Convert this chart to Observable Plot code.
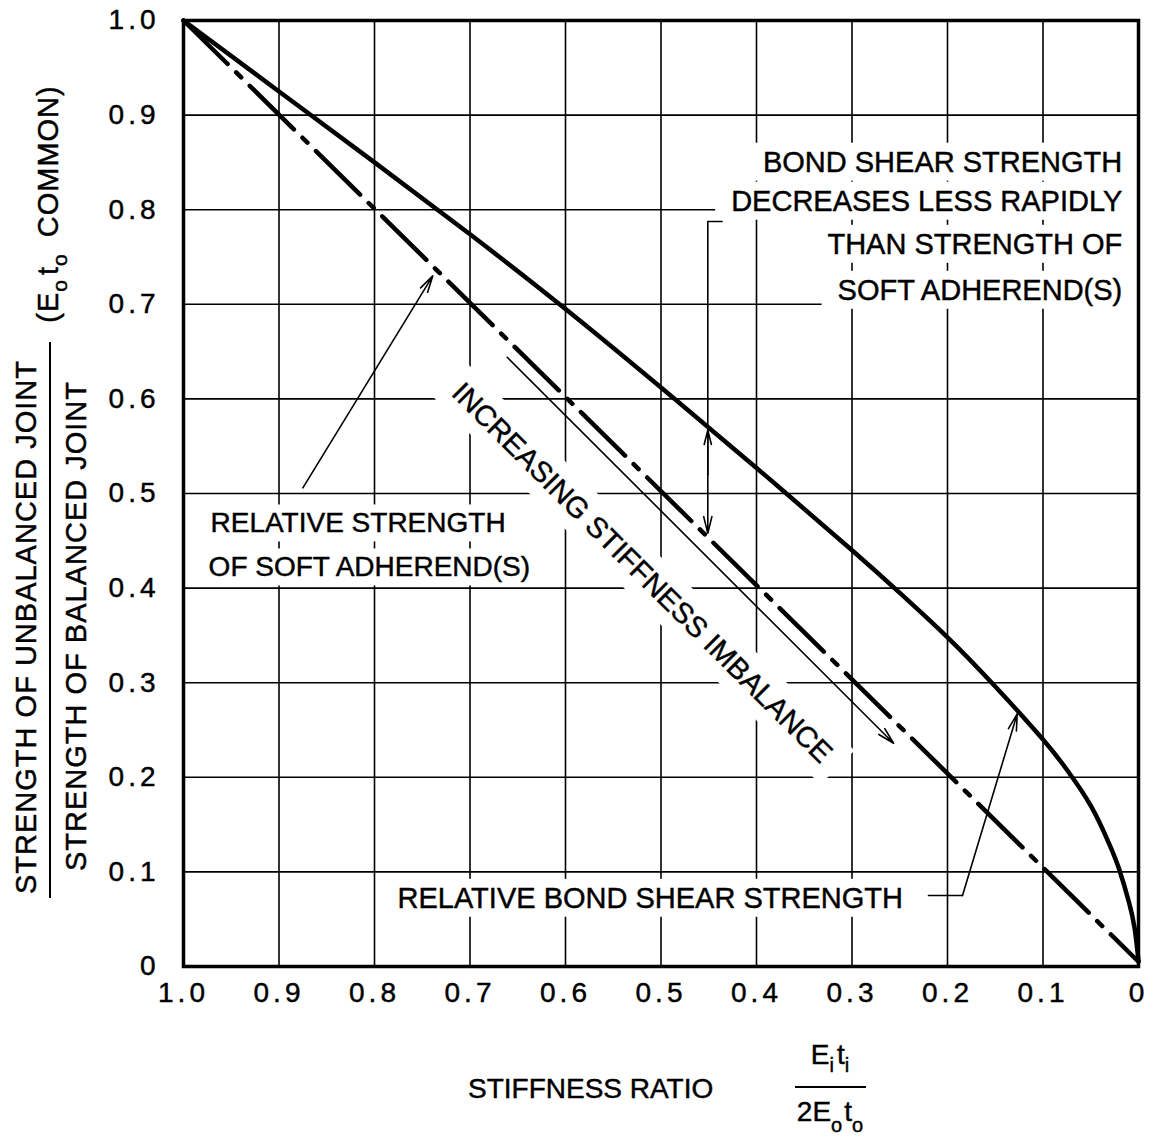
<!DOCTYPE html>
<html><head><meta charset="utf-8">
<script src="https://cdn.jsdelivr.net/npm/d3@7"></script>
<script src="https://cdn.jsdelivr.net/npm/@observablehq/plot@0.6"></script>
<style>
body{margin:0;background:#fff;}
#chart svg{display:block;}
g[aria-label^="x-axis"] text, g[aria-label^="y-axis"] text {letter-spacing:4px;}
svg text {stroke: black; stroke-width: 0.45px;}
</style></head><body><div id="chart"></div>
<script>
const FONT = '"Liberation Sans", Arial, sans-serif';

// Stiffness ratio (x) and relative bond shear strength (solid curve)
const bondX = [1.0, 0.9, 0.8, 0.7, 0.6, 0.5, 0.4, 0.3, 0.25, 0.2, 0.15, 0.1, 0.075, 0.05, 0.03, 0.02, 0.01, 0.004, 0.0];
const bondY = [1.0, 0.925, 0.85, 0.774, 0.695, 0.612, 0.527, 0.44, 0.395, 0.348, 0.296, 0.24, 0.208, 0.17, 0.128, 0.102, 0.068, 0.04, 0.006];
// Relative strength of soft adherend(s) (dash-dot line)
const softX = [1.0, 0.0];
const softY = [1.0, 0.005];
// Tick values
const xTicks = [1.0, 0.9, 0.8, 0.7, 0.6, 0.5, 0.4, 0.3, 0.2, 0.1, 0.0];
const yTicks = [0.0, 0.1, 0.2, 0.3, 0.4, 0.5, 0.6, 0.7, 0.8, 0.9, 1.0];
const fmt = d => d === 0 ? "0" : d.toFixed(1);

// Annotation texts
const noteBond = ["BOND SHEAR STRENGTH", "DECREASES LESS RAPIDLY", "THAN STRENGTH OF", "SOFT ADHEREND(S)"];
const noteBondX = [0.017, 0.017, 0.017, 0.017];
const noteBondY = [0.850, 0.8087, 0.7632, 0.7146];
const noteSoft = ["RELATIVE STRENGTH", "OF SOFT ADHEREND(S)"];
const noteSoftX = [0.9717, 0.9737];
const noteSoftY = [0.4683, 0.4218];
const noteShear = ["RELATIVE BOND SHEAR STRENGTH"];
const noteShearX = [0.7759];
const noteShearY = [0.0719];
const noteImb = ["INCREASING STIFFNESS IMBALANCE"];
const noteImbX = [0.52];
const noteImbY = [0.416];

// Pointer arrows
const pointers = [
  {x1: 0.875, y1: 0.506, x2: 0.739, y2: 0.730},   // to soft adherend line
  {x1: 0.661, y1: 0.644, x2: 0.2565, y2: 0.236},  // increasing imbalance
  {x1: 0.451, y1: 0.52, x2: 0.451, y2: 0.567},    // double arrow up
  {x1: 0.451, y1: 0.52, x2: 0.451, y2: 0.458},    // double arrow down
  {x1: 0.1843, y1: 0.075, x2: 0.127, y2: 0.267}   // to bond shear curve
];
const bracket = [{x: 0.436, y: 0.7875}, {x: 0.451, y: 0.7875}, {x: 0.451, y: 0.52}];
const leader = [{x: 0.2199, y: 0.075}, {x: 0.1843, y: 0.075}];

const bondData = bondX.map((x, i) => ({x, y: bondY[i]}));
const softData = softX.map((x, i) => ({x, y: softY[i]}));

const textOpts = (xs, ys, extra) => Object.assign({
  x: (d, i) => xs[i], y: (d, i) => ys[i], text: d => d,
  fontFamily: FONT, fill: "black"
}, extra);

const plot = Plot.plot({
  width: 1156, height: 1142,
  marginLeft: 183, marginRight: 18, marginTop: 20, marginBottom: 176,
  style: {fontFamily: FONT, fontSize: "28px", color: "black", background: "white"},
  x: {domain: [1, 0], ticks: xTicks, tickFormat: fmt, tickSize: 0, tickPadding: 16, label: null},
  y: {domain: [0, 1], ticks: yTicks, tickFormat: fmt, tickSize: 0, tickPadding: 24, label: null},
  marks: [
    Plot.ruleX(xTicks, {stroke: "black", strokeWidth: 1.6}),
    Plot.ruleY(yTicks, {stroke: "black", strokeWidth: 1.6}),
    Plot.line(softData, {x: "x", y: "y", stroke: "black", strokeWidth: 4.5, strokeDasharray: "62,12,7,12"}),
    Plot.line(bondData, {x: "x", y: "y", stroke: "black", strokeWidth: 4.5, curve: "natural"}),
    Plot.line(bracket, {x: "x", y: "y", stroke: "black", strokeWidth: 1.6}),
    Plot.line(leader, {x: "x", y: "y", stroke: "black", strokeWidth: 1.6}),
    Plot.arrow(pointers, {x1: "x1", y1: "y1", x2: "x2", y2: "y2", stroke: "black", strokeWidth: 1.6, headLength: 16, headAngle: 28}),
    Plot.text(noteBond, textOpts(noteBondX, noteBondY, {textAnchor: "end", fontSize: 29})),
    Plot.text(noteSoft, textOpts(noteSoftX, noteSoftY, {textAnchor: "start", fontSize: 28})),
    Plot.text(noteShear, textOpts(noteShearX, noteShearY, {textAnchor: "start", fontSize: 29})),
    Plot.text(noteImb, textOpts(noteImbX, noteImbY, {textAnchor: "middle", fontSize: 29, rotate: 45})),
    Plot.frame({stroke: "black", strokeWidth: 3.5})
  ]
});

document.getElementById("chart").append(plot);

// White backgrounds behind annotation texts (break the grid like the original)
const NS = "http://www.w3.org/2000/svg";
const svgEl = plot;
const texts = svgEl.querySelectorAll('g[aria-label="text"] text');
const rules = svgEl.querySelectorAll('g[aria-label="rule"]');
const bg = document.createElementNS(NS, "g");
rules[rules.length - 1].after(bg);
const rootInv = svgEl.getScreenCTM().inverse();
texts.forEach(t => {
  const b = t.getBBox();
  const m = rootInv.multiply(t.getScreenCTM());
  const rotated = Math.abs(m.b) > 0.01;
  const padX = rotated ? 14 : 16, padY = rotated ? 8 : 3;
  const r = document.createElementNS(NS, "rect");
  r.setAttribute("x", b.x - padX);
  r.setAttribute("y", b.y - padY);
  r.setAttribute("width", b.width + 2 * padX);
  r.setAttribute("height", b.height + 2 * padY);
  r.setAttribute("fill", "white");
  r.setAttribute("transform", `matrix(${m.a} ${m.b} ${m.c} ${m.d} ${m.e} ${m.f})`);
  bg.append(r);
});

// Axis titles (fractions with subscripts)
const svg = d3.select(svgEl);
const yl = svg.append("g").attr("font-family", FONT).attr("font-size", 29).attr("fill", "black").style("letter-spacing", "1px");
yl.append("text").attr("transform", "translate(36,627) rotate(-90)").attr("text-anchor", "middle").text("STRENGTH OF UNBALANCED JOINT");
yl.append("line").attr("x1", 50).attr("x2", 50).attr("y1", 342).attr("y2", 898).attr("stroke", "black").attr("stroke-width", 2);
yl.append("text").attr("transform", "translate(86,626) rotate(-90)").attr("text-anchor", "middle").text("STRENGTH OF BALANCED JOINT");
const cm = yl.append("text").attr("transform", "translate(58,204) rotate(-90)").attr("text-anchor", "middle");
cm.append("tspan").text("(E");
cm.append("tspan").attr("dy", 9).attr("font-size", 21).text("o");
cm.append("tspan").attr("dy", -9).attr("dx", 4).text("t");
cm.append("tspan").attr("dy", 9).attr("font-size", 21).text("o");
cm.append("tspan").attr("dy", -9).attr("dx", 16).text("COMMON)");

const xl = svg.append("g").attr("font-family", FONT).attr("font-size", 28).attr("fill", "black");
xl.append("text").attr("x", 468).attr("y", 1098).attr("text-anchor", "start").text("STIFFNESS RATIO");
const num = xl.append("text").attr("x", 830).attr("y", 1064).attr("text-anchor", "middle");
num.append("tspan").text("E");
num.append("tspan").attr("dy", 8).attr("font-size", 20).text("i");
num.append("tspan").attr("dy", -8).attr("dx", 3).text("t");
num.append("tspan").attr("dy", 8).attr("font-size", 20).text("i");
xl.append("line").attr("x1", 795).attr("x2", 866).attr("y1", 1087).attr("y2", 1087).attr("stroke", "black").attr("stroke-width", 2);
const den = xl.append("text").attr("x", 830).attr("y", 1121).attr("text-anchor", "middle");
den.append("tspan").text("2E");
den.append("tspan").attr("dy", 11).attr("font-size", 20).text("o");
den.append("tspan").attr("dy", -11).attr("dx", 2).text("t");
den.append("tspan").attr("dy", 11).attr("font-size", 20).text("o");
</script>
</body></html>
